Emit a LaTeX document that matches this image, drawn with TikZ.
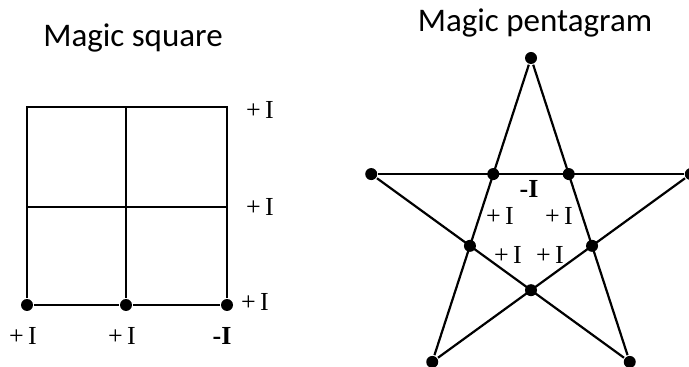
\documentclass[tikz,border=0pt]{standalone}
\usepackage{fontspec}
\setmainfont{Liberation Serif}
\newfontfamily\titlefont{Carlito}
\usetikzlibrary{positioning}

\begin{document}
\begin{tikzpicture}[x=1pt,y=1pt,line width=2.2pt,
    dot/.style={circle,fill,inner sep=0pt,minimum size=12pt},
    lbl/.style={font=\fontsize{26}{26}\selectfont,inner sep=0pt},
    title/.style={font=\titlefont\fontsize{33}{33}\selectfont,anchor=base}]
  \useasboundingbox (0,0) rectangle (689,367);

  % magic square
  \node[title] (sqtitle) at (133,320) {Magic square};
  \coordinate (tl) at (27,260);
  \coordinate (tm) at (126,260);
  \coordinate (tr) at (227,260);
  \coordinate (ml) at (27,160);
  \coordinate (mr) at (227,160);
  \node[dot] (bl) at (27,62) {};
  \node[dot] (bm) at (126,62) {};
  \node[dot] (br) at (227,62) {};

  \draw (bl) -- (tl) -- (tr) -- (br);
  \draw (bl) -- (bm) -- (br);
  \draw (tm) -- (bm);
  \draw (ml) -- (mr);

  \node[lbl, right=18pt of tr, yshift=-3pt] (rtop) {+\,I};
  \node[lbl, right=18pt of mr] (rmid) {+\,I};
  \node[lbl, right=6pt of br, yshift=3pt] (rbot) {+\,I};
  \node[lbl, below=14pt of bl, xshift=-4pt] (cl) {+\,I};
  \node[lbl, below=14pt of bm, xshift=-4pt] (cm) {+\,I};
  \node[lbl, below=14pt of br, xshift=-5pt] (cr) {\bfseries -I};

  % magic pentagram
  \node[title] (pgtitle) at (535,335) {Magic pentagram};
  \begin{scope}[shift={(531,141)}]
    \foreach \a/\n in {90/o1,162/o2,234/o3,306/o4,18/o5}
      \node[dot] (\n) at (\a:168) {};
    \foreach \a/\n in {126/i1,198/i2,270/i3,342/i4,54/i5}
      \node[dot] (\n) at (\a:64.2) {};

    \draw (o1) -- (o3);
    \draw (o1) -- (o4);
    \draw (o2) -- (o5);
    \draw (o2) -- (o4);
    \draw (o5) -- (o3);

    \node[lbl] (ptop) at (-2,37) {\bfseries -I};
    \node[lbl] (pul) at (-31,10) {+\,I};
    \node[lbl] (pur) at (28,10) {+\,I};
    \node[lbl] (pll) at (-23,-29) {+\,I};
    \node[lbl] (plr) at (19,-29) {+\,I};
  \end{scope}
\end{tikzpicture}
\end{document}
